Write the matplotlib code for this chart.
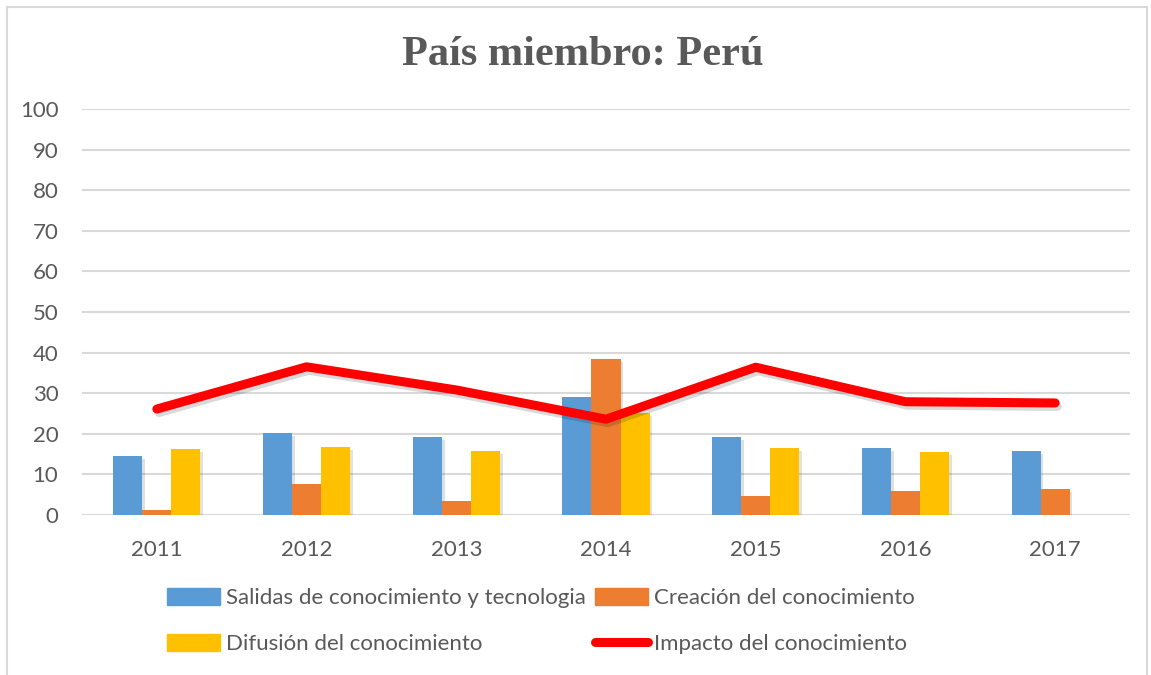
import matplotlib.pyplot as plt
import matplotlib.patheffects as pe
import numpy as np
from matplotlib.patches import Rectangle
from matplotlib.lines import Line2D

plt.rcParams['font.family'] = ['Lato', 'DejaVu Sans']

years = ['2011', '2012', '2013', '2014', '2015', '2016', '2017']
salidas = [14.5, 20.2, 19.2, 29.1, 19.2, 16.5, 15.8]
creacion = [1.2, 7.6, 3.4, 38.4, 4.7, 5.9, 6.4]
difusion = [16.3, 16.7, 15.8, 25.1, 16.5, 15.5, 0.0]
impacto = [26.1, 36.5, 30.8, 23.6, 36.4, 27.9, 27.6]

labels = ['Salidas de conocimiento y tecnologia', 'Creación del conocimiento',
          'Difusión del conocimiento', 'Impacto del conocimiento']
colors = ['#5b9bd5', '#ed7d31', '#ffc000', '#ff0000']
gray = '#595959'

fig = plt.figure(figsize=(11.51, 6.75), dpi=100)
fig.patches.append(Rectangle((7 / 1151, -0.05), 1140 / 1151, 1.05 - 7 / 675,
                             transform=fig.transFigure, fill=False,
                             edgecolor='#d9d9d9', linewidth=1.5))

ax = fig.add_axes([82 / 1151, 1 - 515 / 675, 1048 / 1151, 406 / 675])
x = np.arange(len(years))
w = 0.194
shadow = [pe.SimplePatchShadow(offset=(2, -2), alpha=0.15), pe.Normal()]
for i, (vals, col) in enumerate(zip([salidas, creacion, difusion], colors)):
    bars = ax.bar(x + (i - 1) * w, vals, w, color=col, zorder=2)
    for b in bars:
        if b.get_height() > 0:
            b.set_path_effects(shadow)

ax.plot(x, impacto, color=colors[3], linewidth=6.5, solid_capstyle='round',
        zorder=3, path_effects=[pe.SimpleLineShadow(offset=(1.5, -2.5), alpha=0.15), pe.Normal()])

ax.set_xlim(-0.5, len(years) - 0.5)
ax.set_ylim(0, 100)
ax.set_yticks(range(0, 101, 10))
ax.set_xticks(x)
ax.set_xticklabels(years)
ax.yaxis.grid(True, color='#d9d9d9', linewidth=1.5, zorder=0)
ax.set_axisbelow(True)
for s in ax.spines.values():
    s.set_visible(False)
ax.tick_params(axis='both', length=0, labelsize=16, labelcolor=gray)
ax.tick_params(axis='y', pad=17)
ax.tick_params(axis='x', pad=18)

fig.text(583 / 1151, 1 - 55 / 675, 'País miembro: Perú', ha='center', va='center',
         fontsize=30.5, fontweight='bold', color=gray, family='Liberation Serif')

handles = [Rectangle((0, 0), 1, 1, color=colors[0]),
           Rectangle((0, 0), 1, 1, color=colors[2]),
           Rectangle((0, 0), 1, 1, color=colors[1]),
           Line2D([], [], color=colors[3], linewidth=6.5, solid_capstyle='round')]
leg = fig.legend(handles, [labels[0], labels[2], labels[1], labels[3]], ncol=2,
                 loc='upper left', bbox_to_anchor=(167 / 1151, 1 - 588 / 675),
                 frameon=False, fontsize=16, handlelength=2.4, handleheight=0.8,
                 handletextpad=0.25, columnspacing=0.4, labelspacing=1.15,
                 borderpad=0, borderaxespad=0)
for t in leg.get_texts():
    t.set_color(gray)

fig.savefig('out.png', dpi=100)
